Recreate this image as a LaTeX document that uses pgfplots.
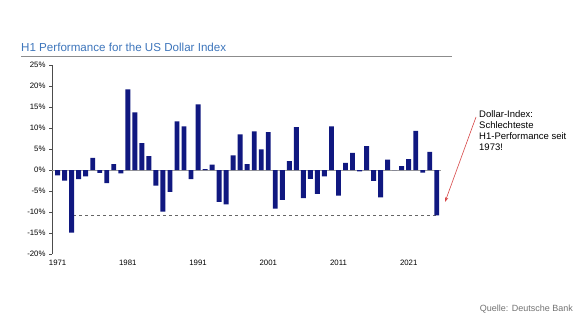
\documentclass[border=0pt]{standalone}
\usepackage{fontspec}
\setmainfont{Liberation Sans}
\usepackage{pgfplots}
\pgfplotsset{compat=1.18}
\usetikzlibrary{arrows.meta}
\definecolor{barblue}{RGB}{16,24,128}
\definecolor{titleblue}{RGB}{62,118,188}
\definecolor{arrowred}{RGB}{215,70,70}
\begin{document}
\begin{tikzpicture}[x=1pt,y=1pt]
\useasboundingbox[fill=white] (0,0) rectangle (580,330);
\node[anchor=base west, text=titleblue, font=\fontsize{11.6}{13}\selectfont, inner sep=0] at (21,278.5) {H1 Performance for the US Dollar Index};
\draw[black!45, line width=0.8pt] (21,274) -- (452,274);
\begin{axis}[
  at={(52pt,76pt)}, anchor=south west,
  width=389pt, height=189pt, scale only axis,
  xmin=1970.2, xmax=2025.6, ymin=-20, ymax=25,
  axis lines*=left,
  x axis line style={draw=none},
  y axis line style={black!70, line width=0.6pt},
  xtick={1971,1981,1991,2001,2011,2021},
  xtick style={draw=none},
  ytick={-20,-15,...,25},
  y tick style={black!70, line width=0.6pt},
  tick align=outside, major tick length=3pt,
  yticklabel={\pgfmathprintnumber{\tick}\%},
  /pgf/number format/assume math mode=true,
  x tick label style={/pgf/number format/1000 sep={}, font=\fontsize{7.8}{9}\selectfont},
  y tick label style={font=\fontsize{7.8}{9}\selectfont},
  clip=false,
]
\addplot[black!40, line width=0.5pt] coordinates {(1970.2,0) (2025.6,0)};
\addplot[black!60, dashed, line width=0.5pt] coordinates {(1973.2,-10.7) (2025,-10.7)};
\addplot[ybar, bar width=0.7, fill=barblue, draw=none] coordinates {
(1971,-1.3) (1972,-2.5) (1973,-14.9) (1974,-2.2) (1975,-1.5) (1976,2.9) (1977,-0.7) (1978,-3.1) (1979,1.4) (1980,-0.8)
(1981,19.2) (1982,13.7) (1983,6.4) (1984,3.3) (1985,-3.7) (1986,-9.9) (1987,-5.2) (1988,11.6) (1989,10.4) (1990,-2.2)
(1991,15.6) (1992,0.2) (1993,1.3) (1994,-7.6) (1995,-8.2) (1996,3.5) (1997,8.5) (1998,1.4) (1999,9.2) (2000,4.9)
(2001,9.0) (2002,-9.2) (2003,-7.1) (2004,2.1) (2005,10.2) (2006,-6.7) (2007,-2.1) (2008,-5.7) (2009,-1.5) (2010,10.4)
(2011,-6.1) (2012,1.7) (2013,4.1) (2014,-0.3) (2015,5.7) (2016,-2.6) (2017,-6.5) (2018,2.5) (2019,0.0) (2020,0.9)
(2021,2.6) (2022,9.3) (2023,-0.6) (2024,4.3) (2025,-10.8)
};
\end{axis}
\node[anchor=north west, align=left, inner sep=0, font=\fontsize{9.5}{11.3}\selectfont] at (479,220) {Dollar-Index:\\Schlechteste\\H1-Performance seit\\1973!};
\draw[arrowred, line width=0.6pt, -{Stealth[length=5pt,width=3.5pt]}] (476,213) -- (445,128);
\node[anchor=east, text=black!55, inner sep=0, font=\fontsize{9}{10}\selectfont] at (573,21) {Quelle: Deutsche Bank};
\end{tikzpicture}
\end{document}
